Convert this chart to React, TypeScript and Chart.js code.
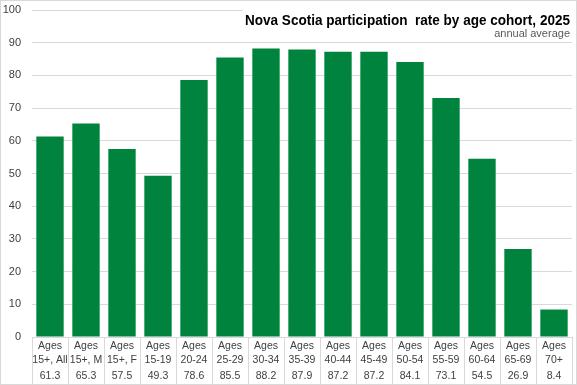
import React, { useEffect, useRef } from "react";
import { Chart, registerables } from "chart.js";

Chart.register(...registerables);

const categoryTop: string[] = ["Ages", "Ages", "Ages", "Ages", "Ages", "Ages", "Ages", "Ages", "Ages", "Ages", "Ages", "Ages", "Ages", "Ages", "Ages"];
const categoryBottom: string[] = ["15+, All", "15+, M", "15+, F", "15-19", "20-24", "25-29", "30-34", "35-39", "40-44", "45-49", "50-54", "55-59", "60-64", "65-69", "70+"];
const rates: number[] = [61.3, 65.3, 57.5, 49.3, 78.6, 85.5, 88.2, 87.9, 87.2, 87.2, 84.1, 73.1, 54.5, 26.9, 8.4];
const yTicks: number[] = [0, 10, 20, 30, 40, 50, 60, 70, 80, 90, 100];
const titleText = "Nova Scotia participation  rate by age cohort, 2025";
const subtitleText = "annual average";

const GREEN = "#00843d";
const GRID = "#d9d9d9";
const TEXT = "#404040";
const FONT = "'Liberation Sans', Arial, sans-serif";

const overlay = {
  id: "overlay",
  afterDraw(chart: any) {
    const { ctx, chartArea, scales } = chart;
    const x = scales.x;
    const y = scales.y;
    const W = chart.width;
    const H = chart.height;
    ctx.save();
    // y tick labels
    ctx.fillStyle = TEXT;
    ctx.font = `11px ${FONT}`;
    ctx.textAlign = "right";
    ctx.textBaseline = "middle";
    yTicks.forEach((v) => {
      ctx.fillText(String(v), chartArea.left - 11, y.getPixelForValue(v));
    });
    // table separators
    const n = rates.length;
    const step = (chartArea.right - chartArea.left) / n;
    ctx.strokeStyle = GRID;
    ctx.lineWidth = 1;
    for (let i = 0; i <= n; i++) {
      const px = Math.round(chartArea.left + i * step) + 0.5;
      ctx.beginPath();
      ctx.moveTo(px, chartArea.bottom);
      ctx.lineTo(px, H);
      ctx.stroke();
    }
    // value row
    ctx.fillStyle = TEXT;
    ctx.font = `10.5px ${FONT}`;
    ctx.textAlign = "center";
    ctx.textBaseline = "middle";
    rates.forEach((v, i) => {
      ctx.fillText(v.toFixed(1), x.getPixelForValue(i), chartArea.bottom + 39);
    });
    // title box
    ctx.fillStyle = "#ffffff";
    ctx.fillRect(243, 3, W - 246, 37);
    ctx.fillStyle = "#000000";
    ctx.textAlign = "right";
    ctx.textBaseline = "alphabetic";
    ctx.font = `bold 15px ${FONT}`;
    const tw = ctx.measureText(titleText).width;
    const sx = Math.min(1, 325 / tw);
    ctx.save();
    ctx.translate(570, 25);
    ctx.scale(sx, 1);
    ctx.fillText(titleText, 0, 0);
    ctx.restore();
    ctx.fillStyle = "#595959";
    ctx.font = `11px ${FONT}`;
    ctx.fillText(subtitleText, 570, 37);
    ctx.strokeStyle = GRID;
    ctx.strokeRect(0.5, 0.5, W - 1, H - 1);
    ctx.restore();
  },
};

export default function App() {
  const ref = useRef<HTMLCanvasElement | null>(null);
  useEffect(() => {
    document.body.style.margin = "0";
    const labels = categoryTop.map((t, i) => [t, categoryBottom[i]]);
    const chart = new Chart(ref.current as HTMLCanvasElement, {
      type: "bar",
      data: {
        labels,
        datasets: [
          {
            data: rates,
            backgroundColor: GREEN,
            borderWidth: 0,
            barPercentage: 0.76,
            categoryPercentage: 1,
          },
        ],
      },
      options: {
        animation: false,
        responsive: false,
        maintainAspectRatio: false,
        layout: { padding: { left: 0, right: 5, top: 10, bottom: 0 } },
        plugins: { legend: { display: false }, tooltip: { enabled: false }, title: { display: false } },
        scales: {
          x: {
            grid: { display: false, drawTicks: false },
            border: { display: false },
            ticks: {
              color: TEXT,
              font: { family: FONT, size: 10.5, lineHeight: 1.35 },
              padding: 2,
              maxRotation: 0,
              autoSkip: false,
            },
            afterFit: (s: any) => {
              s.height = 48;
            },
          },
          y: {
            min: 0,
            max: 100,
            afterBuildTicks: (s: any) => {
              s.ticks = yTicks.map((v) => ({ value: v }));
            },
            grid: { color: GRID, drawTicks: false },
            border: { display: false },
            ticks: { display: false },
            afterFit: (s: any) => {
              s.width = 32;
            },
          },
        },
      },
      plugins: [overlay],
    });
    return () => chart.destroy();
  }, []);
  return (
    <div style={{ width: 577, height: 385, position: "relative", background: "#fff" }}>
      <canvas ref={ref} width={577} height={385} style={{ display: "block" }} />
    </div>
  );
}
